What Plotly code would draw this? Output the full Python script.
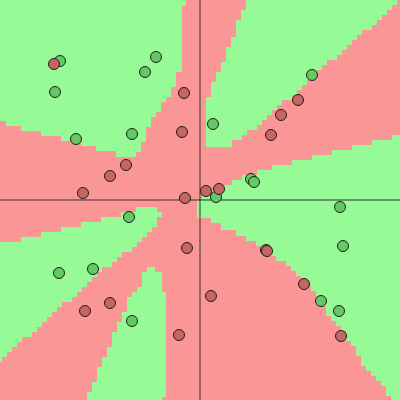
import plotly.graph_objects as go

# ---- data (x, y in data units; canvas spans -4..4) ----
green_x = [-2.80, -2.90, -0.88, -1.10, -1.36, -2.48, 2.24, 0.26, 1.02, 1.08,
           0.32, -1.42, -2.82, -2.14, -1.36, 2.80, 2.86, 1.32, 2.42, 2.78]
green_y = [2.78, 2.16, 2.86, 2.56, 1.32, 1.22, 2.50, 1.52, 0.42, 0.36,
           0.06, -0.34, -1.46, -1.38, -2.42, -0.14, -0.92, -1.00, -2.02, -2.22]

red_x = [-2.92, -0.32, -0.36, -1.48, -1.80, -2.34, -0.30, 1.96, 1.62, 1.42,
         0.12, 0.38, -0.26, -1.80, -2.30, -0.42, 1.34, 0.22, 2.08, 2.82]
red_y = [2.72, 2.14, 1.36, 0.70, 0.48, 0.14, 0.04, 2.00, 1.70, 1.30,
         0.18, 0.22, -0.96, -2.06, -2.22, -2.70, -1.02, -1.92, -1.68, -2.72]

# decision regions predicted as green (rest of the plane is red); stair corners
region_a_x = [-4, -0.28, -0.36, -0.48, -0.58, -0.68, -0.78, -0.88, -0.98, -1.08,
              -1.18, -1.28, -1.68, -2.08, -2.38, -2.78, -3.18, -3.58, -3.88, -4]
region_a_y = [4, 4, 3.88, 2.56, 2.26, 2.06, 1.96, 1.76, 1.66, 1.46,
              1.16, 0.96, 0.86, 0.98, 1.08, 1.18, 1.28, 1.38, 1.48, 1.58]

region_b_x = [0.92, 3.94, 3.84, 3.74, 3.64, 3.54, 3.44, 3.24, 3.14, 3.04,
              2.94, 2.84, 2.74, 2.54, 2.44, 2.34, 2.24, 2.14, 2.04, 1.94,
              1.84, 1.64, 1.54, 1.44, 1.34, 1.24, 1.14, 0.94, 0.84, 0.64,
              0.12, 0.22, 0.32, 0.42, 0.52, 0.62, 0.72, 0.82, 0.92, 0.92]
region_b_y = [4, 4, 3.9, 3.8, 3.7, 3.6, 3.5, 3.4, 3.3, 3.2,
              3.1, 3.0, 2.9, 2.8, 2.7, 2.6, 2.5, 2.4, 2.3, 2.2,
              2.1, 2.0, 1.9, 1.8, 1.7, 1.6, 1.5, 1.4, 1.3, 1.2,
              1.06, 2.06, 2.36, 2.56, 2.76, 3.06, 3.26, 3.6, 3.8, 4]

region_c_x = [4, 3.84, 3.44, 3.04, 2.64, 2.24, 1.84, 1.44, 1.14, 0.84,
              0.64, 0.44, 0.24, 0.04, -0.06, 0.22, 0.42, 0.72, 0.92, 1.12,
              1.22, 1.32, 1.52, 1.72, 1.82, 1.92, 2.02, 2.12, 2.22, 2.32,
              2.42, 2.52, 2.62, 2.72, 2.82, 2.92, 3.02, 3.12, 3.22, 3.32,
              3.42, 3.52, 3.62, 3.72, 3.82, 4]
region_c_y = [1.3, 1.3, 1.2, 1.1, 1.0, 0.9, 0.8, 0.7, 0.6, 0.5,
              0.4, 0.3, 0.2, 0.1, 0, -0.36, -0.46, -0.6, -0.72, -0.82,
              -0.92, -1.02, -1.12, -1.22, -1.32, -1.42, -1.52, -1.62, -1.72, -1.82,
              -1.92, -2.12, -2.32, -2.42, -2.52, -2.62, -2.82, -2.92, -3.12, -3.32,
              -3.42, -3.52, -3.62, -3.72, -3.92, -4]

region_d_x = [-4, -3.58, -3.18, -2.78, -2.38, -1.98, -1.58, -1.28, -0.86, -0.76,
              -0.86, -0.96, -1.06, -1.16, -1.26, -1.36, -1.56, -1.66, -1.76, -1.96,
              -2.06, -2.16, -2.26, -2.36, -2.46, -2.56, -2.76, -2.86, -2.96, -3.06,
              -3.16, -3.26, -3.36, -3.56, -3.66, -3.76, -3.86, -3.96, -4]
region_d_y = [-0.84, -0.84, -0.74, -0.64, -0.54, -0.44, -0.34, -0.24, -0.14, -0.24,
              -0.34, -0.54, -0.64, -0.74, -0.84, -0.94, -1.04, -1.14, -1.24, -1.34,
              -1.44, -1.54, -1.64, -1.74, -1.84, -1.94, -2.04, -2.14, -2.24, -2.34,
              -2.44, -2.54, -2.64, -2.74, -2.84, -2.94, -3.04, -3.14, -3.24]

region_e_x = [-1.06, -0.90, -0.76, -0.68, -0.76, -2.26, -2.16, -2.06, -1.96, -1.86,
              -1.76, -1.66, -1.56, -1.46, -1.36, -1.26, -1.16, -1.06, -1.06]
region_e_y = [-1.34, -1.34, -1.44, -1.84, -3.94, -4, -3.84, -3.64, -3.34, -3.14,
              -2.94, -2.64, -2.44, -2.24, -1.94, -1.84, -1.74, -1.44, -1.34]

axis_range = [-4, 4]

# ---- styles ----
BG_RED = "rgb(250,150,150)"
BG_GREEN = "rgb(150,250,150)"
PT_GREEN = "rgb(100,200,100)"
PT_RED = "rgb(200,100,100)"
AXIS = "rgb(50,50,50)"

fig = go.Figure()

for rx, ry in [(region_a_x, region_a_y), (region_b_x, region_b_y),
               (region_c_x, region_c_y), (region_d_x, region_d_y),
               (region_e_x, region_e_y)]:
    fig.add_trace(go.Scatter(
        x=rx, y=ry, mode="lines", fill="toself", fillcolor=BG_GREEN,
        line=dict(width=0, color=BG_GREEN, shape="vh"),
        hoverinfo="skip", showlegend=False))

# axes through the origin
fig.add_trace(go.Scatter(x=axis_range, y=[0, 0], mode="lines",
                         line=dict(color=AXIS, width=1),
                         hoverinfo="skip", showlegend=False))
fig.add_trace(go.Scatter(x=[0, 0], y=axis_range, mode="lines",
                         line=dict(color=AXIS, width=1),
                         hoverinfo="skip", showlegend=False))

fig.add_trace(go.Scatter(x=green_x, y=green_y, mode="markers",
                         marker=dict(size=11, color=PT_GREEN,
                                     line=dict(color="rgb(30,30,30)", width=1)),
                         showlegend=False))
fig.add_trace(go.Scatter(x=red_x, y=red_y, mode="markers",
                         marker=dict(size=11, color=PT_RED,
                                     line=dict(color="rgb(30,30,30)", width=1)),
                         showlegend=False))

fig.update_layout(
    width=400, height=400,
    margin=dict(l=0, r=0, t=0, b=0),
    paper_bgcolor=BG_RED, plot_bgcolor=BG_RED,
    showlegend=False, hovermode=False,
    xaxis=dict(range=axis_range, visible=False, fixedrange=True),
    yaxis=dict(range=axis_range, visible=False, fixedrange=True),
)

fig.write_html("out.html", config={"displayModeBar": False, "staticPlot": True},
               post_script="document.body.style.margin='0';"
                           "document.body.style.overflow='hidden';")
